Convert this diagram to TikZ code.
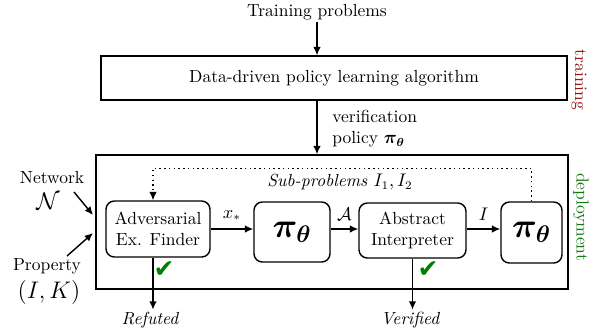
\documentclass[tikz,border=0pt]{standalone}
\usepackage{amsmath,amssymb,bm}
\usepackage{fontspec}
\newfontfamily\symf{DejaVu Sans}
\usetikzlibrary{arrows.meta}
\definecolor{chk}{RGB}{0,128,0}
\definecolor{trn}{RGB}{150,20,20}
\definecolor{dep}{RGB}{20,120,20}
\begin{document}
\fontsize{10.5}{12.6}\selectfont
\begin{tikzpicture}[x=0.6pt,y=-0.6pt,
  line width=0.85pt,
  arr/.style={-{Latex[length=5pt,width=4.5pt]}},
  sqbox/.style={draw,inner sep=0pt,align=center},
  rbox/.style={draw,rounded corners=5pt,inner sep=0pt,align=center},
  pibox/.style={rbox,font=\fontsize{21}{25}\selectfont},
  chkmark/.style={text=chk,font=\symf\fontsize{15}{18}\selectfont},
  lbl/.style={inner sep=1pt}]
\useasboundingbox (0,0) rectangle (600,333);
% training part
\node[lbl] (tp) at (317,12) {Training problems};
\node[sqbox,minimum width=279.6pt,minimum height=26.4pt] (top) at (334,78) {Data-driven policy learning algorithm};
\node[rotate=-90,text=trn,lbl] (trn) at (579,80) {training};
\draw[arr] (tp.south) -- (tp.south |- top.north);
% deployment box
\node[sqbox,minimum width=283.2pt,minimum height=80.4pt] (big) at (332,222) {};
\node[rotate=-90,text=dep,lbl] (dep) at (581,217) {deployment};
\draw[arr] (top.south -| tp.south) -- (tp.south |- big.north);
\node[lbl,anchor=west] (ver) at (330,116) {verification};
\node[lbl,anchor=west] (pol) at (330,139) {policy $\bm{\pi_{\theta}}$};
% inner boxes
\node[rbox,minimum width=62.4pt,minimum height=33.6pt] (adv) at (158,229) {Adversarial\\Ex. Finder};
\node[pibox,minimum width=45.6pt,minimum height=36pt] (pi1) at (292,232) {$\bm{\pi_{\theta}}$};
\node[rbox,minimum width=64.2pt,minimum height=33pt] (ai) at (412.5,230.5) {Abstract\\Interpreter};
\node[pibox,minimum width=36.6pt,minimum height=36.6pt] (pi2) at (531.5,232.5) {$\bm{\pi_{\theta}}$};
\draw[arr] (adv.east) -- (adv.east -| pi1.west) node[midway,above=1pt] (xs) {$x_*$};
\draw[arr] (pi1.east |- adv.east) -- (adv.east -| ai.west) node[midway,above=1pt] (ca) {$\mathcal{A}$};
\draw[arr] (ai.east |- adv.east) -- (adv.east -| pi2.west) node[midway,above=1pt] (iv) {$I$};
% dotted feedback
\coordinate (fx) at (153,0);
\draw[dotted,arr] (pi2.north) -- ++(0,-33) coordinate (dc) -| (fx |- adv.north);
\node[lbl,font=\itshape] (sub) at (340,182) {Sub-problems $I_1, I_2$};
% inputs
\node[inner sep=0pt] (net) at (52,178) {Network};
\node[inner sep=0pt,font=\fontsize{14}{16}\selectfont] (nn) at (48,201) {$\mathcal{N}$};
\node[lbl] (prop) at (47,266) {Property};
\node[lbl,font=\fontsize{15}{18}\selectfont] (ik) at (49,292) {$(I,K)$};
\coordinate (n1) at (74,192);
\coordinate (n2) at (93,215);
\coordinate (p1) at (67,256);
\coordinate (p2) at (93,233);
\draw[arr] (n1) -- (n2);
\draw[arr] (p1) -- (p2);
% outputs
\node[lbl,font=\itshape] (ref) at (150,320) {Refuted};
\node[lbl,font=\itshape] (verd) at (410,320) {Verified};
\draw[arr] (fx |- adv.south) -- (fx |- ref.north);
\draw[arr] (ai.south) -- (ai.south |- verd.north);
\node[chkmark] (c1) at (164,270) {✔};
\node[chkmark] (c2) at (428,270) {✔};
\end{tikzpicture}
\end{document}
